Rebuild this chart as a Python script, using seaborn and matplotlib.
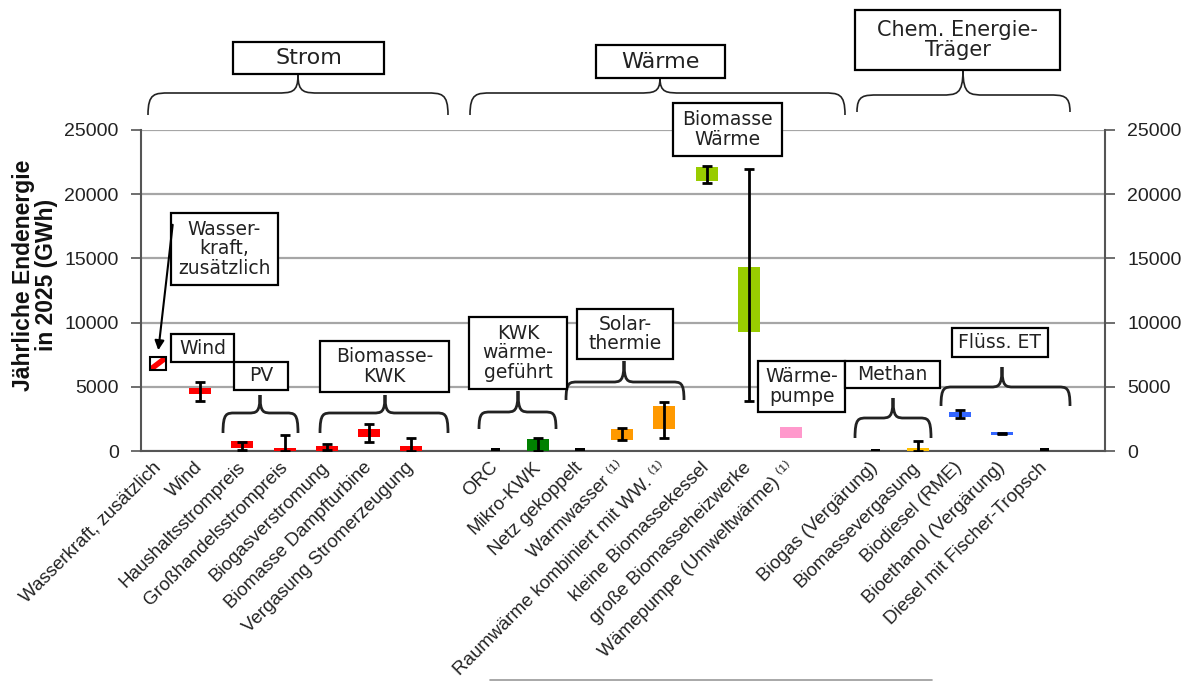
import numpy as np
import matplotlib
matplotlib.use("Agg")
import matplotlib.pyplot as plt
from matplotlib.patches import Rectangle, PathPatch, FancyArrowPatch
from matplotlib.path import Path
from matplotlib.lines import Line2D
import seaborn as sns

sns.set_theme(style="white")
plt.rcParams['font.family'] = ['Liberation Sans', 'DejaVu Sans']

# data (GWh)
labels = ["Wasserkraft, zusätzlich", "Wind", "Haushaltsstrompreis", "Großhandelsstrompreis",
          "Biogasverstromung", "Biomasse Dampfturbine", "Vergasung Stromerzeugung",
          "ORC", "Mikro-KWK", "Netz gekoppelt", "Warmwasser ⁽¹⁾",
          "Raumwärme kombiniert mit WW. ⁽¹⁾", "kleine Biomassekessel",
          "große Biomasseheizwerke", "Wämepumpe (Umweltwärme) ⁽¹⁾",
          "Biogas (Vergärung)", "Biomassevergasung", "Biodiesel (RME)",
          "Bioethanol (Vergärung)", "Diesel mit Fischer-Tropsch"]
group = [0, 0, 0, 0, 0, 0, 0,
         1, 1, 1, 1, 1, 1, 1, 1,
         2, 2, 2, 2, 2]
box_low = [6300, 4440, 230, 0, 0, 1100, 0,
           0, 0, 0, 850, 1700, 21000, 9250, 1000,
           0, 0, 2650, 1250, 0]
box_high = [7300, 4900, 780, 200, 400, 1700, 400,
            200, 950, 200, 1700, 3500, 22100, 14300, 1900,
            150, 250, 3050, 1500, 200]
err_low = [np.nan, 3890, 50, 0, 100, 700, 0,
           np.nan, 0, np.nan, 860, 1000, 20900, 3900, np.nan,
           np.nan, 0, 2600, 1330, np.nan]
err_high = [np.nan, 5370, 720, 1250, 550, 2100, 1000,
            np.nan, 1000, np.nan, 1790, 3800, 22200, 22000, np.nan,
            np.nan, 800, 3200, 1420, np.nan]
colors = ["white", "#FF0000", "#FF0000", "#FF0000", "#FF0000", "#FF0000", "#FF0000",
          "black", "#008000", "black", "#FF9900", "#FF9900", "#99CC00", "#99CC00", "#FF99CC",
          "black", "#FFC000", "#3366FF", "#3366FF", "black"]
yticks = [0, 5000, 10000, 15000, 20000, 25000]

W, H = 1191, 682
fig = plt.figure(figsize=(W / 100, H / 100), dpi=100)


def fx(x):
    return x / W


def fy(y):
    return 1 - y / H


ax = fig.add_axes([fx(141), fy(451), fx(1105) - fx(141), fy(130) - fy(451)])

pos = np.arange(len(labels)) + np.array(group)
low = np.array(box_low)
high = np.array(box_high)
widths = [0.4 if c == "white" else (0.22 if c == "black" else 0.52) for c in colors]

for i in range(len(labels)):
    if colors[i] == "white":
        bars = ax.bar(pos[i], high[i] - low[i], bottom=low[i], width=widths[i],
                      color="white", linewidth=0, zorder=3)
        stripe, = ax.plot([pos[i] - widths[i] / 2, pos[i] + widths[i] / 2], [low[i], high[i]],
                          color="#FF0000", linewidth=4, zorder=4, solid_capstyle="butt")
        stripe.set_clip_path(bars[0])
        ax.bar(pos[i], high[i] - low[i], bottom=low[i], width=widths[i], fill=False,
               edgecolor="black", linewidth=1.5, zorder=5)
    else:
        ax.bar(pos[i], high[i] - low[i], bottom=low[i], width=widths[i], color=colors[i],
               linewidth=0, zorder=3)

el = np.array(err_low)
eh = np.array(err_high)
mid = (el + eh) / 2
ok = ~np.isnan(el)
ax.errorbar(pos[ok], mid[ok], yerr=(eh[ok] - el[ok]) / 2, fmt="none", ecolor="black",
            elinewidth=2, capsize=3.5, capthick=2, zorder=5)

ax.set_xlim(-0.403, 22.44)
ax.set_ylim(0, 25000)
ax.set_yticks(yticks)
ax.yaxis.grid(True, color="#A6A6A6", linewidth=1.6)
ax.set_axisbelow(True)
ax.set_xticks(pos)
ax.set_xticklabels(labels, rotation=45, ha="right", va="center", rotation_mode="anchor",
                   fontsize=13.5, color="#222222")
ax.tick_params(axis="x", length=0, pad=10)
ax.tick_params(axis="y", left=True, right=True, labelleft=True, labelright=True,
               direction="out", length=7, width=1.2, color="#555555", pad=9,
               labelsize=14, labelcolor="#222222")
for s in ["left", "right", "bottom"]:
    ax.spines[s].set_color("#555555")
    ax.spines[s].set_linewidth(1.5)
ax.spines["top"].set_visible(False)

fig.text(fx(35), fy(275), "Jährliche Endenergie\nin 2025 (GWh)", rotation=90,
         ha="center", va="center", fontsize=16.5, fontweight="bold", linespacing=1.05,
         color="#111111")


def box(x0, y0, x1, y1, text, size=13.5):
    fig.patches.append(Rectangle((fx(x0), fy(y1)), fx(x1) - fx(x0), fy(y0) - fy(y1),
                                 transform=fig.transFigure, facecolor="white",
                                 edgecolor="black", linewidth=1.6, zorder=5))
    fig.text(fx((x0 + x1) / 2), fy((y0 + y1) / 2), text, ha="center", va="center",
             fontsize=size, family="DejaVu Sans", color="#222222", linespacing=1.05,
             zorder=6)


def brace(x0, x1, xm, y_end, y_line, y_tip, r=18, lw=2.0):
    pts = [(x0, y_end), (x0, y_line), (x0 + r * 0.3, y_line), (x0 + r, y_line),
           (xm - r, y_line),
           (xm - r * 0.3, y_line), (xm, y_line), (xm, y_tip),
           (xm, y_line), (xm + r * 0.3, y_line), (xm + r, y_line),
           (x1 - r, y_line),
           (x1 - r * 0.3, y_line), (x1, y_line), (x1, y_end)]
    codes = [Path.MOVETO, Path.CURVE4, Path.CURVE4, Path.CURVE4, Path.LINETO,
             Path.CURVE4, Path.CURVE4, Path.CURVE4,
             Path.CURVE4, Path.CURVE4, Path.CURVE4, Path.LINETO,
             Path.CURVE4, Path.CURVE4, Path.CURVE4]
    path = Path([(fx(a), fy(b)) for a, b in pts], codes)
    fig.patches.append(PathPatch(path, transform=fig.transFigure, fill=False,
                                 edgecolor="#222222", linewidth=lw, zorder=4))


# top groups
brace(148, 448, 298, 115, 93, 75, r=22, lw=1.2)
brace(470, 845, 660, 115, 93, 78, r=22, lw=1.2)
brace(857, 1070, 963, 112, 95, 70, r=22, lw=1.2)
box(233, 42, 384, 74, "Strom", 16)
box(596, 45, 725, 78, "Wärme", 16)
box(855, 10, 1060, 70, "Chem. Energie-\nTräger", 15)

# inner groups
brace(223, 298, 260, 433, 413, 395, r=12)
brace(320, 448, 385, 433, 413, 395, r=12)
brace(479, 556, 518, 429, 412, 391, r=12)
brace(566, 684, 624, 400, 382, 361, r=12)
brace(855, 931, 893, 438, 418, 398, r=12)
brace(941, 1070, 1002, 406, 387, 367, r=12)

box(171, 213, 278, 285, "Wasser-\nkraft,\nzusätzlich")
box(171, 334, 234, 362, "Wind")
box(234, 362, 288, 390, "PV")
box(320, 341, 449, 392, "Biomasse-\nKWK")
box(469, 317, 567, 389, "KWK\nwärme-\ngeführt")
box(577, 309, 673, 359, "Solar-\nthermie")
box(673, 103, 782, 156, "Biomasse\nWärme")
box(758, 361, 845, 412, "Wärme-\npumpe")
box(845, 361, 940, 388, "Methan")
box(952, 328, 1048, 357, "Flüss. ET")

fig.patches.append(FancyArrowPatch((fx(173), fy(222)), (fx(158), fy(353)),
                                   transform=fig.transFigure, arrowstyle="-|>",
                                   mutation_scale=14, color="black", linewidth=1.5,
                                   zorder=6))
fig.lines.append(Line2D([fx(490), fx(932)], [fy(680), fy(680)], transform=fig.transFigure,
                        color="#999999", linewidth=1.2))

fig.savefig("out.png", dpi=100)
